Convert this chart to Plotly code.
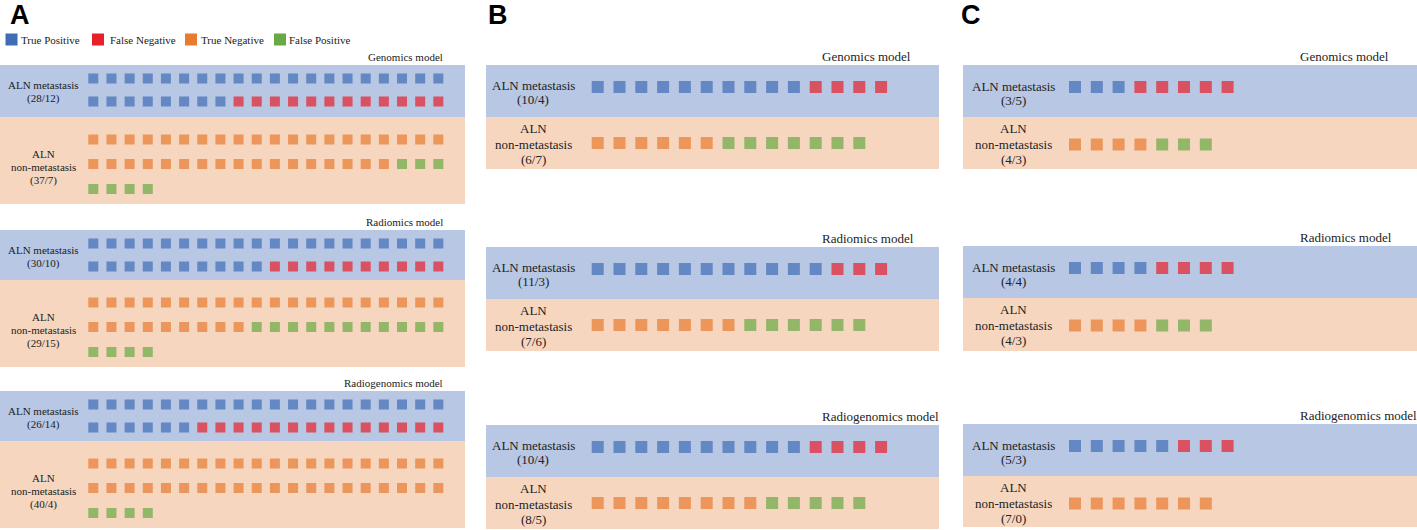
import plotly.graph_objects as go

# ---------------- DATA ----------------
categories = ["True Positive", "False Negative", "True Negative", "False Positive"]
models = ["Genomics model", "Radiomics model", "Radiogenomics model"]
panel_names = ["A", "B", "C"]

A_tp = [28, 30, 26]
A_fn = [12, 10, 14]
A_tn = [37, 29, 40]
A_fp = [7, 15, 4]

B_tp = [10, 11, 10]
B_fn = [4, 3, 4]
B_tn = [6, 7, 8]
B_fp = [7, 6, 5]

C_tp = [3, 4, 5]
C_fn = [5, 4, 3]
C_tn = [4, 4, 7]
C_fp = [3, 3, 0]

# ---------------- STYLE / LAYOUT ----------------
cat_colors = {"True Positive": "#3E6DB6", "False Negative": "#E8202A",
              "True Negative": "#E87B30", "False Positive": "#69A945"}
BLUE_BG = "#B7C7E4"
ORANGE_BG = "#F6D6BF"
SERIF = "Liberation Serif, Times New Roman, serif"
SANS = "Liberation Sans, Arial, sans-serif"

W, H = 1417, 530

panel_cfg = {
    "A": dict(counts=(A_tp, A_fn, A_tn, A_fp), x0=0, x1=465, letter_x=8, label_cx=43,
              col0=93.3, dx=18.16, ncols=20, sq=10, fs=11,
              title_x=445, title_anchor="right",
              blue_top=[65, 230, 391], orange_top=[117, 280, 441], orange_bot=[204, 367, 528],
              blue_rows=[13.5, 36.5], orange_rows=[22.5, 47, 72],
              blue_lab=[20, 33], orange_lab=[37, 50, 63], title_off=8),
    "B": dict(counts=(B_tp, B_fn, B_tn, B_fp), x0=486, x1=939, letter_x=486, label_cx=533,
              col0=597.7, dx=21.8, ncols=20, sq=12, fs=13,
              title_x=820, title_anchor="left",
              blue_top=[65, 247, 425], orange_top=[117, 299, 477], orange_bot=[169, 351, 529],
              blue_rows=[22], orange_rows=[26],
              blue_lab=[20, 34], orange_lab=[11, 27, 42], title_off=9),
    "C": dict(counts=(C_tp, C_fn, C_tn, C_fp), x0=963, x1=1417, letter_x=959, label_cx=1013,
              col0=1075, dx=21.8, ncols=20, sq=12, fs=13,
              title_x=1298, title_anchor="left",
              blue_top=[65, 246, 424], orange_top=[117, 298, 476], orange_bot=[169, 351, 527],
              blue_rows=[22], orange_rows=[27.5],
              blue_lab=[21, 35], orange_lab=[11, 27, 42], title_off=9),
}

fig = go.Figure()
shapes = []
annotations = []

pts = {c: {"x": [], "y": [], "s": []} for c in categories}


def place(seq, top, row_offs, cfg):
    for i, cat in enumerate(seq):
        r, c = divmod(i, cfg["ncols"])
        pts[cat]["x"].append(cfg["col0"] + c * cfg["dx"])
        pts[cat]["y"].append(top + row_offs[r])
        pts[cat]["s"].append(cfg["sq"])


for p in panel_names:
    cfg = panel_cfg[p]
    tp, fn, tn, fp = cfg["counts"]
    annotations.append(dict(x=cfg["letter_x"], y=15, text="<b>%s</b>" % p, showarrow=False,
                            xanchor="left", yanchor="middle",
                            font=dict(family=SANS, size=27, color="black")))
    for m in range(3):
        bt, ot, ob = cfg["blue_top"][m], cfg["orange_top"][m], cfg["orange_bot"][m]
        shapes.append(dict(type="rect", x0=cfg["x0"], x1=cfg["x1"], y0=bt, y1=ot,
                           fillcolor=BLUE_BG, line=dict(width=0), layer="below"))
        shapes.append(dict(type="rect", x0=cfg["x0"], x1=cfg["x1"], y0=ot, y1=ob,
                           fillcolor=ORANGE_BG, line=dict(width=0), layer="below"))
        # model title
        annotations.append(dict(x=cfg["title_x"], y=bt - cfg["title_off"], text=models[m],
                                showarrow=False, xanchor=cfg["title_anchor"], yanchor="middle",
                                font=dict(family=SERIF, size=cfg["fs"], color="#222")))
        # group labels
        blines = ["ALN metastasis", "(%d/%d)" % (tp[m], fn[m])]
        for t, off in zip(blines, cfg["blue_lab"]):
            annotations.append(dict(x=cfg["label_cx"], y=bt + off, text=t, showarrow=False,
                                    xanchor="center", yanchor="middle",
                                    font=dict(family=SERIF, size=cfg["fs"], color="#222")))
        olines = ["ALN", "non-metastasis", "(%d/%d)" % (tn[m], fp[m])]
        for t, off in zip(olines, cfg["orange_lab"]):
            annotations.append(dict(x=cfg["label_cx"], y=ot + off, text=t, showarrow=False,
                                    xanchor="center", yanchor="middle",
                                    font=dict(family=SERIF, size=cfg["fs"], color="#222")))
        place(["True Positive"] * tp[m] + ["False Negative"] * fn[m], bt, cfg["blue_rows"], cfg)
        place(["True Negative"] * tn[m] + ["False Positive"] * fp[m], ot, cfg["orange_rows"], cfg)

for cat in categories:
    fig.add_trace(go.Scatter(x=pts[cat]["x"], y=pts[cat]["y"], mode="markers", name=cat,
                             marker=dict(symbol="square", size=pts[cat]["s"],
                                         color=cat_colors[cat], line=dict(width=0)),
                             showlegend=False, hoverinfo="name"))

# legend (top of panel A)
leg_sq_x = [11.5, 98, 191, 280]
leg_txt_x = [19, 108, 199, 287]
leg_y = 39.5
fig.add_trace(go.Scatter(x=leg_sq_x, y=[leg_y] * 4, mode="markers", showlegend=False,
                         marker=dict(symbol="square", size=12,
                                     color=[cat_colors[c] for c in categories], line=dict(width=0)),
                         hoverinfo="skip"))
for c, tx in zip(categories, leg_txt_x):
    annotations.append(dict(x=tx, y=leg_y, text=c, showarrow=False, xanchor="left",
                            yanchor="middle", font=dict(family=SERIF, size=11, color="#222")))

fig.update_layout(
    width=W, height=H, margin=dict(l=0, r=0, t=0, b=0),
    paper_bgcolor="white", plot_bgcolor="white",
    xaxis=dict(range=[0, W], visible=False, fixedrange=True),
    yaxis=dict(range=[H, 0], visible=False, fixedrange=True),
    shapes=shapes, annotations=annotations, showlegend=False,
)

fig.write_html("out.html", config={"displayModeBar": False},
               post_script="document.body.style.margin='0';document.body.style.overflow='hidden';")
